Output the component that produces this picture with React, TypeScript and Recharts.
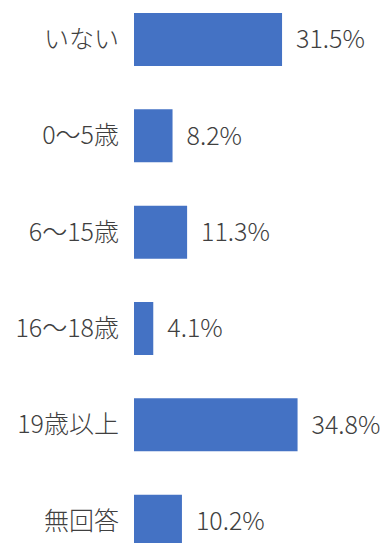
import { BarChart, Bar, XAxis, YAxis, LabelList } from "recharts"

const categories = ["いない", "0～5歳", "6～15歳", "16～18歳", "19歳以上", "無回答"]
const shares = [31.5, 8.2, 11.3, 4.1, 34.8, 10.2]

const data = categories.map((name, i) => ({ name, value: shares[i] }))

const font = '"Noto Sans CJK JP", "Noto Sans", sans-serif'

export default function App() {
  return (
    <div style={{ position: "absolute", top: -9, left: 0 }}>
      <BarChart
        width={382}
        height={578}
        data={data}
        layout="vertical"
        margin={{ top: 0, right: 60, bottom: 0, left: 0 }}
      >
        <XAxis type="number" domain={[0, 40]} hide />
        <YAxis
          type="category"
          dataKey="name"
          width={134}
          axisLine={false}
          tickLine={false}
          tickSize={0}
          tickMargin={15}
          tick={{ fontSize: 25, fill: "#404040", fontFamily: font, fontWeight: 300 }}
        />
        <Bar dataKey="value" fill="#4472C4" barSize={53} isAnimationActive={false}>
          <LabelList
            dataKey="value"
            position="right"
            offset={14}
            formatter={(v: any) => `${v}%`}
            style={{ fontSize: 25, fill: "#404040", fontFamily: font, fontWeight: 300 }}
          />
        </Bar>
      </BarChart>
    </div>
  )
}
